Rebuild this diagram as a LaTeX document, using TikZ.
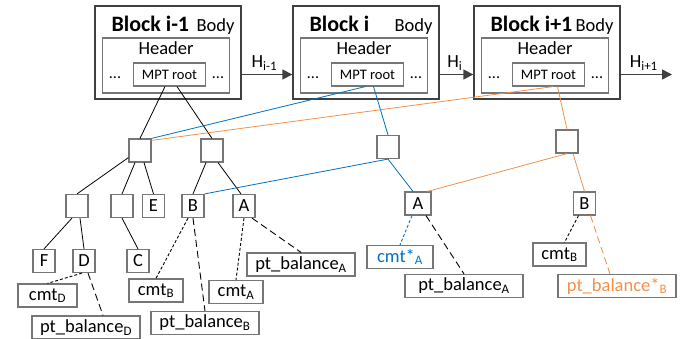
\documentclass[tikz,border=0pt]{standalone}
\usepackage{xcolor}
\usepackage{fontspec}
\setmainfont{Carlito}
\usepackage{tikz}
\usetikzlibrary{arrows.meta, positioning}

\definecolor{chainblue}{RGB}{0,112,192}
\definecolor{chainorange}{RGB}{240,145,75}
\definecolor{boxgray}{RGB}{118,118,118}
\definecolor{blockgray}{RGB}{64,64,64}

\begin{document}
\begin{tikzpicture}[x=1pt, y=-1pt,
    blockbox/.style={draw=blockgray, line width=1.4pt, minimum width=146pt, minimum height=93pt, inner sep=0pt},
    headbox/.style={draw=boxgray, line width=1.2pt, minimum width=127pt, minimum height=55pt, inner sep=0pt},
    rootbox/.style={draw=boxgray, line width=1.1pt, minimum width=72pt, minimum height=23pt, inner sep=0pt, font=\fontsize{14.5}{16}\selectfont},
    trie/.style={draw=boxgray, line width=1.2pt, minimum width=22pt, minimum height=23pt, inner sep=0pt, font=\fontsize{18.5}{20}\selectfont},
    leaf/.style={draw=boxgray, line width=1.2pt, minimum height=23pt, inner sep=0pt, font=\fontsize{18.5}{20}\selectfont},
    link/.style={line width=0.8pt},
    cmtlink/.style={line width=0.9pt, dash pattern=on 3pt off 2pt},
    ballink/.style={line width=0.9pt, dash pattern=on 7pt off 4pt},
    hash/.style={draw=blockgray, line width=1.6pt, -{Triangle[length=10pt, width=10pt]}},
    hashlabel/.style={font=\fontsize{18.5}{20}\selectfont, inner sep=2pt},
    ]
    \useasboundingbox (0,0) rectangle (694,339);

    % Blocks
    \foreach \x/\n/\t in {95/1/i-1, 293/2/i, 474/3/i+1} {
        \node[blockbox] (blk\n) at (\x+73, 52.5) {};
        \node[headbox] (head\n) at (\x+71, 65.5) {};
        \node[anchor=base west, font=\bfseries\fontsize{22}{24}\selectfont] (ttl\n) at (\x+13, 32) {Block \t};
        \node[anchor=base east, font=\fontsize{18.5}{20}\selectfont] (body\n) at (\x+143, 32) {Body};
        \node[anchor=base, font=\fontsize{18.5}{20}\selectfont] (htxt\n) at (\x+71, 55) {Header};
        \node[rootbox] (mpt\n) at (\x+74.5, 74.5) {MPT root};
        \node[anchor=base, font=\fontsize{16}{18}\selectfont] (dl\n) at (\x+20, 79) {...};
        \node[anchor=base, font=\fontsize{16}{18}\selectfont] (dr\n) at (\x+123, 79) {...};
    }
    \coordinate (next) at (672, 74.5);

    % Hash pointers
    \draw[hash] (blk1.east |- mpt1) -- (blk2.west |- mpt1) node[hashlabel, pos=.45, above=1pt] {H\textsubscript{i-1}};
    \draw[hash] (blk2.east |- mpt2) -- (blk3.west |- mpt2) node[hashlabel, pos=.45, above=1pt] {H\textsubscript{i}};
    \draw[hash] (blk3.east |- mpt3) -- (next) node[hashlabel, pos=.45, above=1pt] {H\textsubscript{i+1}};

    % Trie of block i-1
    \node[trie] (r1) at (140, 150.5) {};
    \node[trie] (r2) at (212, 150.5) {};
    \node[trie] (n1) at (77, 206) {};
    \node[trie] (n2) at (122, 206) {};
    \node[trie] (e) at (153.5, 206) {E};
    \node[trie] (b) at (193, 206) {B};
    \node[trie] (a) at (244, 206) {A};
    \node[trie] (f) at (44, 261) {F};
    \node[trie] (d) at (84, 261) {D};
    \node[trie] (c) at (138, 261) {C};

    \node[leaf, minimum width=59pt] (cmtD) at (47.5, 295.5) {cmt\textsubscript{D}};
    \node[leaf, minimum width=108pt] (balD) at (86, 327.5) {pt\_balance\textsubscript{D}};
    \node[leaf, minimum width=54pt] (cmtB) at (156, 290.5) {cmt\textsubscript{B}};
    \node[leaf, minimum width=108pt] (balB) at (205, 323) {pt\_balance\textsubscript{B}};
    \node[leaf, minimum width=54pt] (cmtA) at (236, 292) {cmt\textsubscript{A}};
    \node[leaf, minimum width=108pt] (balA) at (301, 264.5) {pt\_balance\textsubscript{A}};

    \draw[link] ([xshift=-4.5pt]mpt1.south) -- (r1.north);
    \draw[link] ([xshift=7.5pt]mpt1.south) -- (r2.north);
    \draw[link] ([yshift=5pt]r1.south west) -- (n1.north);
    \draw[link] ([xshift=-5pt]r1.south) -- (n2.north);
    \draw[link] ([xshift=4pt]r1.south) -- (e.north);
    \draw[link] ([xshift=-6pt]r2.south) -- (b.north);
    \draw[link] ([xshift=6pt]r2.south) -- ([xshift=-3pt]a.north);
    \draw[link] ([xshift=-5pt]n1.south) -- (f.north);
    \draw[link] ([xshift=3pt]n1.south) -- (d.north);
    \draw[link] (n2.south) -- (c.north);

    \draw[cmtlink] ([xshift=-2pt]d.south) -- (cmtD.north);
    \draw[ballink] ([xshift=4pt]d.south) -- ([xshift=17pt]balD.north);
    \draw[cmtlink] ([xshift=-5pt]b.south) -- (cmtB.north);
    \draw[ballink] (b.south) -- (balB.north);
    \draw[cmtlink] (a.south) -- (cmtA.north);
    \draw[ballink] ([xshift=8pt]a.south) -- (balA.north);

    % Block i
    \node[trie] (nb) at (388, 147) {};
    \node[trie, minimum width=26pt] (a2) at (418, 203.5) {A};
    \node[leaf, minimum width=66pt, text=chainblue] (cmtA2) at (400, 257) {cmt*\textsubscript{A}};
    \node[leaf, minimum width=118pt] (balA2) at (464, 286) {pt\_balance\textsubscript{A}};

    \draw[link, chainblue] ([xshift=-2pt]mpt2.south) -- (r1.north east);
    \draw[link, chainblue] ([xshift=6pt]mpt2.south) -- (nb.north);
    \draw[link, chainblue] (b.north east) -- (nb.south);
    \draw[link, chainblue] (nb.south) -- ([xshift=-5pt]a2.north);
    \draw[cmtlink, chainblue] ([xshift=-6pt]a2.south) -- (cmtA2.north);
    \draw[ballink] ([xshift=8pt]a2.south) -- (balA2.north);

    % Block i+1
    \node[trie] (no) at (567, 141.5) {};
    \node[trie] (b2) at (584.5, 203.5) {B};
    \node[leaf, minimum width=53pt] (cmtB2) at (559.5, 254.5) {cmt\textsubscript{B}};
    \node[leaf, minimum width=118pt, text=chainorange] (balB2) at (617, 286) {pt\_balance*\textsubscript{B}};

    \draw[link, chainorange] ([xshift=5pt]mpt3.south) -- ([yshift=-2pt]r1.north east);
    \draw[link, chainorange] ([xshift=9pt]mpt3.south) -- (no.north);
    \draw[link, chainorange] (no.south) -- ([xshift=-4pt]a2.north east);
    \draw[link, chainorange] ([xshift=6pt]no.south) -- (b2.north);
    \draw[cmtlink] ([xshift=-6pt]b2.south) -- ([xshift=5pt]cmtB2.north);
    \draw[ballink, chainorange] ([xshift=6pt]b2.south) -- ([xshift=-7pt]balB2.north);
\end{tikzpicture}
\end{document}
